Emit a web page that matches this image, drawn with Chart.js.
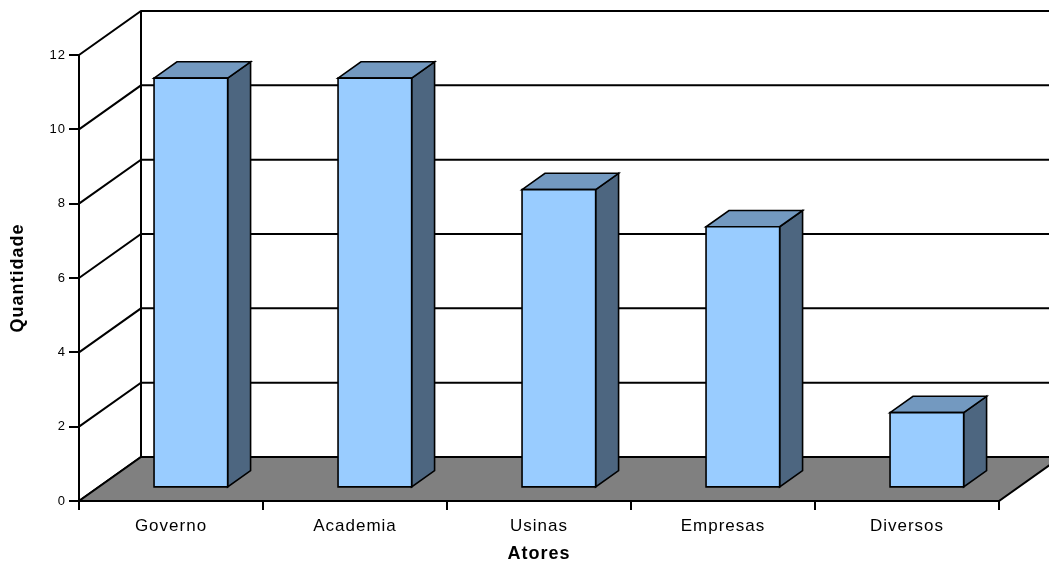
<!DOCTYPE html>
<html>
<head>
<meta charset="utf-8">
<script src="https://cdn.jsdelivr.net/npm/chart.js@4/dist/chart.umd.min.js"></script>
<style>
  html, body { margin: 0; padding: 0; background: #fff; overflow: hidden; }
  canvas { display: block; }
</style>
</head>
<body>
<canvas id="chart" width="1049" height="565"></canvas>
<script>
// Data
const categories = ['Governo', 'Academia', 'Usinas', 'Empresas', 'Diversos'];
const quantities = [11, 11, 8, 7, 2];
const tickValues = [0, 2, 4, 6, 8, 10, 12];

// 3-D look: wall depth offset and bar placement inside that depth
const DEPTH_X = 62;
const DEPTH_Y = 44;
const BAR_FRONT = 0.32;
const BAR_BACK = 0.69;
const BAR_HALF = 0.2;
const FACE = '#99CCFF';
const SIDE = '#4D6680';
const TOP = '#7399C0';
const FLOOR = '#808080';
const FONT = "'Liberation Sans', Arial, Helvetica, sans-serif";

function poly(ctx, pts, fill) {
  ctx.beginPath();
  ctx.moveTo(pts[0][0], pts[0][1]);
  for (let i = 1; i < pts.length; i++) ctx.lineTo(pts[i][0], pts[i][1]);
  ctx.closePath();
  ctx.fillStyle = fill;
  ctx.fill();
  ctx.stroke();
}

const box3d = {
  id: 'box3d',
  beforeDraw(chart) {
    const { ctx, chartArea: a, scales: { y } } = chart;
    ctx.letterSpacing = '1px';
    ctx.save();
    ctx.fillStyle = '#fff';
    ctx.fillRect(0, 0, chart.width, chart.height);
    ctx.strokeStyle = '#000';
    ctx.lineWidth = 2;
    ctx.lineJoin = 'miter';
    const bx = a.left + DEPTH_X;
    // side wall diagonals and back wall grid lines
    ctx.beginPath();
    for (const t of y.ticks) {
      const py = y.getPixelForValue(t.value);
      ctx.moveTo(a.left, py);
      ctx.lineTo(bx, py - DEPTH_Y);
      ctx.lineTo(a.right + DEPTH_X, py - DEPTH_Y);
    }
    ctx.moveTo(bx, a.top - DEPTH_Y);
    ctx.lineTo(bx, a.bottom - DEPTH_Y);
    ctx.stroke();
    // floor
    poly(ctx, [
      [a.left, a.bottom], [a.right, a.bottom],
      [a.right + DEPTH_X, a.bottom - DEPTH_Y], [bx, a.bottom - DEPTH_Y]
    ], FLOOR);
    ctx.restore();
  },
  afterDatasetsDraw(chart) {
    const { ctx, scales: { x, y } } = chart;
    const values = chart.data.datasets[0].data;
    const step = Math.abs(x.getPixelForValue(1) - x.getPixelForValue(0));
    const hw = step * BAR_HALF;
    const ddx = (BAR_BACK - BAR_FRONT) * DEPTH_X;
    const ddy = (BAR_BACK - BAR_FRONT) * DEPTH_Y;
    ctx.save();
    ctx.strokeStyle = '#000';
    ctx.lineWidth = 1.6;
    ctx.lineJoin = 'miter';
    values.forEach((v, i) => {
      const cx = x.getPixelForValue(i);
      const L = cx - hw + BAR_FRONT * DEPTH_X;
      const R = cx + hw + BAR_FRONT * DEPTH_X;
      const T = y.getPixelForValue(v) - BAR_FRONT * DEPTH_Y;
      const B = y.getPixelForValue(0) - BAR_FRONT * DEPTH_Y;
      poly(ctx, [[R, T], [R + ddx, T - ddy], [R + ddx, B - ddy], [R, B]], SIDE);
      poly(ctx, [[L, T], [R, T], [R + ddx, T - ddy], [L + ddx, T - ddy]], TOP);
      poly(ctx, [[L, T], [R, T], [R, B], [L, B]], FACE);
    });
    ctx.restore();
  }
};

new Chart(document.getElementById('chart'), {
  type: 'bar',
  data: {
    labels: categories,
    datasets: [{
      label: 'Quantidade',
      data: quantities,
      backgroundColor: 'rgba(0,0,0,0)',
      borderWidth: 0
    }]
  },
  options: {
    responsive: false,
    devicePixelRatio: 1,
    animation: false,
    events: [],
    layout: { padding: { top: 55, right: 50, left: 0, bottom: 0 } },
    plugins: {
      legend: { display: false },
      tooltip: { enabled: false }
    },
    scales: {
      x: {
        type: 'category',
        offset: true,
        afterFit(s) { s.height = 64; },
        grid: {
          display: true, drawOnChartArea: false, drawTicks: true,
          tickLength: 9, color: '#000', lineWidth: 2, offset: true
        },
        border: { display: true, color: '#000', width: 2 },
        ticks: {
          color: '#000', padding: 6, maxRotation: 0, autoSkip: false,
          font: { family: FONT, size: 17 }
        },
        title: {
          display: true, text: 'Atores', color: '#000',
          font: { family: FONT, size: 18, weight: 'bold' },
          padding: { top: 0, bottom: 0 }
        }
      },
      y: {
        min: 0,
        max: 12,
        afterBuildTicks(s) { s.ticks = tickValues.map(v => ({ value: v })); },
        afterFit(s) { s.width = 79; },
        grid: {
          display: true, drawOnChartArea: false, drawTicks: true,
          tickLength: 10, color: '#000', lineWidth: 2
        },
        border: { display: true, color: '#000', width: 2 },
        ticks: {
          color: '#000', padding: 3,
          font: { family: FONT, size: 13 }
        },
        title: {
          display: true, text: 'Quantidade', color: '#000',
          font: { family: FONT, size: 18, weight: 'bold' },
          padding: { top: 7, bottom: 0 }
        }
      }
    }
  },
  plugins: [box3d]
});
</script>
</body>
</html>
